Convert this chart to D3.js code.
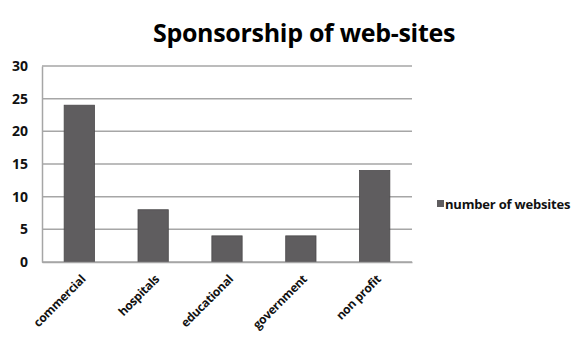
<!DOCTYPE html>
<html>
<head>
<meta charset="utf-8">
<script src="https://cdn.jsdelivr.net/npm/d3@7"></script>
<style>
  body { margin: 0; background: #fff; }
  svg { display: block; font-family: "Open Sans", "DejaVu Sans", sans-serif; }
  .grid line { stroke: #a6a6a6; stroke-width: 1.5; }
  .domain { stroke: #a6a6a6; stroke-width: 1.5; }
</style>
</head>
<body>
<svg width="584" height="340"></svg>
<script>
const categories = ['commercial', 'hospitals', 'educational', 'government', 'non profit'];
const websites = [24, 8, 4, 4, 14];
const yTicks = [0, 5, 10, 15, 20, 25, 30];
const seriesName = 'number of websites';

const svg = d3.select('svg');
const margin = {left: 42, right: 172, top: 66, bottom: 78};
const width = 584 - margin.left - margin.right;
const height = 340 - margin.top - margin.bottom;

const g = svg.append('g')
    .attr('transform', `translate(${margin.left},${margin.top})`);

const x = d3.scaleBand().domain(categories).range([0, width]).paddingInner(0.59).paddingOuter(0.3);
const y = d3.scaleLinear().domain([0, 30]).range([height, 0]);

// gridlines
g.append('g').attr('class', 'grid')
  .selectAll('line')
  .data(yTicks)
  .join('line')
    .attr('x1', 0).attr('x2', width)
    .attr('y1', d => y(d)).attr('y2', d => y(d));

// y axis
const yAxis = g.append('g')
    .call(d3.axisLeft(y).tickValues(yTicks).tickSize(0).tickPadding(14));
yAxis.selectAll('text')
    .attr('font-size', 14).attr('font-weight', 'bold').attr('fill', '#111')
    .attr('font-family', '"Open Sans", sans-serif');

// bars
g.selectAll('rect.bar')
  .data(categories)
  .join('rect')
    .attr('class', 'bar')
    .attr('x', d => x(d))
    .attr('width', x.bandwidth())
    .attr('y', (d, i) => y(websites[i]))
    .attr('height', (d, i) => height - y(websites[i]))
    .attr('fill', '#5f5d5f')
    .attr('stroke', '#4a484a')
    .attr('stroke-width', 0.8);

// x axis
const xAxis = g.append('g')
    .attr('transform', `translate(0,${height})`)
    .call(d3.axisBottom(x).tickSize(0));
xAxis.selectAll('text')
    .attr('x', 0).attr('y', 0)
    .attr('font-size', 12).attr('font-weight', 'bold').attr('fill', '#111')
    .attr('font-family', '"Open Sans", sans-serif')
    .attr('letter-spacing', -0.3)
    .attr('text-anchor', 'end')
    .attr('dy', '0.35em')
    .attr('transform', 'translate(4,15) rotate(-45)');

// title
svg.append('text')
    .attr('x', 304).attr('y', 42)
    .attr('text-anchor', 'middle')
    .attr('font-size', 25).attr('font-weight', 'bold').attr('fill', '#000')
    .attr('letter-spacing', -0.3)
    .text('Sponsorship of web-sites');

// legend
const legend = svg.append('g').attr('transform', 'translate(437,204)');
legend.append('rect').attr('x', 0).attr('y', -4).attr('width', 7).attr('height', 7).attr('fill', '#5f5d5f');
legend.append('text')
    .attr('x', 8).attr('y', 0).attr('dy', '0.35em')
    .attr('font-size', 13).attr('font-weight', 'bold').attr('fill', '#111')
    .attr('letter-spacing', -0.2)
    .text(seriesName);
</script>
</body>
</html>
